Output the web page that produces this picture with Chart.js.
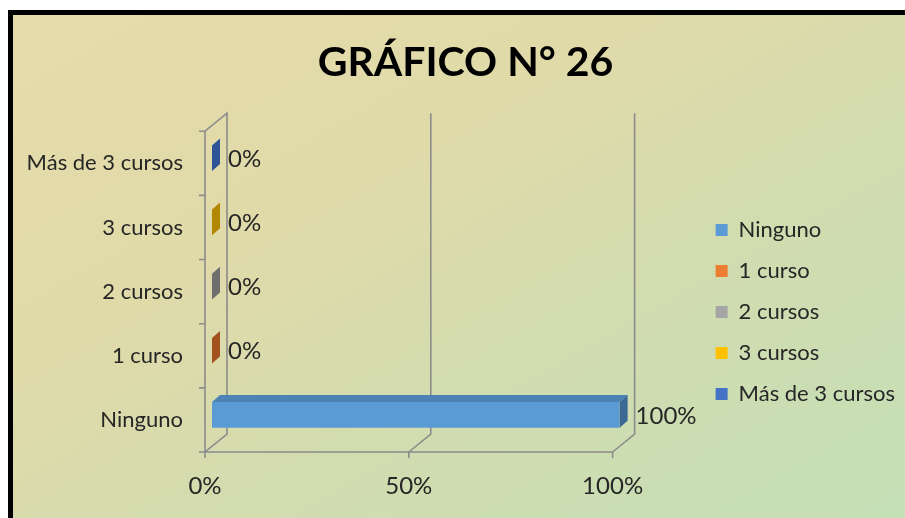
<!DOCTYPE html>
<html lang="es">
<head>
<meta charset="utf-8">
<title>Gráfico N° 26</title>
<script src="https://cdn.jsdelivr.net/npm/chart.js@4/dist/chart.umd.min.js"></script>
<style>
  html, body { margin: 0; padding: 0; background: #fff; }
  body { width: 905px; height: 518px; position: relative; overflow: hidden; }
  /* chart frame: black border on left/top, diagonal tan -> green fill */
  #frame {
    position: absolute; left: 8px; top: 10px; width: 910px; height: 520px;
    border-left: 5px solid #000; border-top: 5px solid #000;
    background: linear-gradient(to bottom right, #e5dca9 0%, #e0daa9 35%, #d2dcaf 60%, #c3dfb6 100%);
  }
  #chart { position: absolute; left: 0; top: 0; }
</style>
</head>
<body>
<div id="frame"></div>
<canvas id="chart" width="905" height="518"></canvas>
<script>
// ----- Data -----
const categories = ['Ninguno', '1 curso', '2 cursos', '3 cursos', 'Más de 3 cursos'];
const percents   = [100, 0, 0, 0, 0];
const xTicks     = [0, 50, 100];

// ----- Colours (front / top / side faces) -----
const frontColors = ['#5b9bd5', '#ed7d31', '#a5a5a5', '#ffc000', '#4472c4'];
const topColors   = ['#4d82b5', '#c4652a', '#8a8a8a', '#d19e00', '#3a62a8'];
const sideColors  = ['#3b6894', '#a3521f', '#6f6f6f', '#b38600', '#2f5597'];

const FONT = 'Lato, "Open Sans", sans-serif';
const TEXT = '#262626';
const GRID = '#8c8c8c';

// depth offsets, relative to the plane the bars sit in
const FRONT = { dx: -7, dy: 5 };
const BACK  = { dx: 15, dy: -13 };
const BAR_DEPTH = { dx: 8, dy: -7 };

// one dataset per category so each bar gets its own legend entry
const datasets = categories.map((name, i) => ({
  label: name,
  data: categories.map((_, j) => (j === i ? percents[i] : null)),
  backgroundColor: frontColors[i],
  borderWidth: 0,
  barPercentage: 0.4,
  categoryPercentage: 1
}));

// ----- Plugin: 3D walls / floor drawn off the scales -----
const frame3d = {
  id: 'frame3d',
  beforeDatasetsDraw(chart) {
    const { ctx, chartArea } = chart;
    const xs = chart.scales.x;
    const top = chartArea.top, bottom = chartArea.bottom;
    const L = xs.getPixelForValue(0);
    const R = xs.getPixelForValue(100);
    ctx.save();
    ctx.strokeStyle = GRID;
    ctx.lineWidth = 1.6;
    ctx.beginPath();
    // left wall
    ctx.moveTo(L + FRONT.dx, bottom + FRONT.dy);
    ctx.lineTo(L + FRONT.dx, top + FRONT.dy);
    ctx.lineTo(L + BACK.dx, top + BACK.dy);
    ctx.lineTo(L + BACK.dx, bottom + BACK.dy);
    ctx.lineTo(L + FRONT.dx, bottom + FRONT.dy);
    // floor front edge
    ctx.lineTo(R + FRONT.dx, bottom + FRONT.dy);
    // back wall gridlines + floor slants
    xTicks.forEach(v => {
      if (v === 0) return;
      const px = xs.getPixelForValue(v);
      ctx.moveTo(px + BACK.dx, top + BACK.dy);
      ctx.lineTo(px + BACK.dx, bottom + BACK.dy);
      ctx.lineTo(px + FRONT.dx, bottom + FRONT.dy);
    });
    // x tick marks
    xTicks.forEach(v => {
      const px = xs.getPixelForValue(v);
      ctx.moveTo(px + FRONT.dx, bottom + FRONT.dy);
      ctx.lineTo(px + FRONT.dx, bottom + FRONT.dy + 6);
    });
    // y tick marks at category boundaries
    const band = (bottom - top) / categories.length;
    for (let k = 0; k <= categories.length; k++) {
      const py = top + k * band + FRONT.dy;
      ctx.moveTo(L + FRONT.dx - 6, py);
      ctx.lineTo(L + FRONT.dx, py);
    }
    ctx.stroke();
    ctx.restore();
  }
};

// ----- Plugin: bar top/side faces + value labels -----
const bar3d = {
  id: 'bar3d',
  afterDatasetsDraw(chart) {
    const { ctx } = chart;
    const d = BAR_DEPTH;
    chart.data.datasets.forEach((ds, i) => {
      const meta = chart.getDatasetMeta(i);
      meta.data.forEach((bar, j) => {
        const val = ds.data[j];
        if (val === null || val === undefined) return;
        const { x, y, base, height } = bar.getProps(['x', 'y', 'base', 'height'], true);
        const t = y - height / 2, b = y + height / 2;
        ctx.save();
        if (x - base > 0.5) {
          ctx.fillStyle = topColors[i];
          ctx.beginPath();
          ctx.moveTo(base, t);
          ctx.lineTo(x, t);
          ctx.lineTo(x + d.dx, t + d.dy);
          ctx.lineTo(base + d.dx, t + d.dy);
          ctx.closePath();
          ctx.fill();
        }
        ctx.fillStyle = sideColors[i];
        ctx.beginPath();
        ctx.moveTo(x, t);
        ctx.lineTo(x, b);
        ctx.lineTo(x + d.dx, b + d.dy);
        ctx.lineTo(x + d.dx, t + d.dy);
        ctx.closePath();
        ctx.fill();
        // value label
        ctx.fillStyle = TEXT;
        ctx.font = '24px ' + FONT;
        ctx.textAlign = 'left';
        ctx.textBaseline = 'middle';
        ctx.fillText(val + '%', x + d.dx + 8, y + 1);
        ctx.restore();
      });
    });
  }
};

// ----- Chart -----
new Chart(document.getElementById('chart'), {
  type: 'bar',
  data: { labels: categories, datasets },
  options: {
    indexAxis: 'y',
    responsive: false,
    animation: false,
    layout: { padding: { left: 26, right: 0, top: 0, bottom: 0 } },
    plugins: {
      title: {
        display: true,
        text: 'GRÁFICO N° 26',
        color: '#000',
        font: { family: FONT, size: 41, weight: 'bold' },
        padding: { top: 38, bottom: 39 }
      },
      legend: {
        position: 'right',
        align: 'start',
        // empty title only pushes the entries down to where they sit in the original
        title: { display: true, text: '', font: { size: 10 }, padding: { top: 188, bottom: 0 } },
        labels: {
          color: TEXT,
          font: { family: FONT, size: 22 },
          boxWidth: 12,
          boxHeight: 12,
          padding: 19
        }
      },
      tooltip: { enabled: false }
    },
    scales: {
      x: {
        stacked: true,
        min: 0,
        max: 100,
        afterBuildTicks: s => { s.ticks = xTicks.map(v => ({ value: v })); },
        afterFit: s => { s.height = 71; },
        grid: { display: false, drawTicks: false },
        border: { display: false },
        ticks: {
          color: TEXT,
          font: { family: FONT, size: 24 },
          padding: 25,
          labelOffset: FRONT.dx,
          callback: v => v + '%'
        }
      },
      y: {
        stacked: true,
        reverse: true,
        afterFit: s => { s.width = 186; },
        grid: { display: false, drawTicks: false },
        border: { display: false },
        ticks: {
          color: TEXT,
          font: { family: FONT, size: 22 },
          padding: 29,
          labelOffset: FRONT.dy
        }
      },
      // hidden spacer between the plot and the legend
      y2: {
        type: 'linear',
        axis: 'y',
        position: 'right',
        display: false,
        afterFit: s => { s.width = 77; }
      }
    }
  },
  plugins: [frame3d, bar3d]
});
</script>
</body>
</html>
